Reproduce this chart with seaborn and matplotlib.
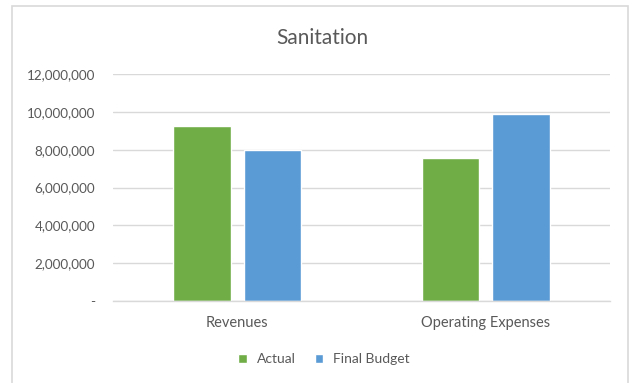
import matplotlib
matplotlib.use("Agg")
import matplotlib.pyplot as plt
import seaborn as sns
import pandas as pd
from matplotlib.patches import Rectangle
from matplotlib.ticker import FuncFormatter

categories = ["Revenues", "Operating Expenses"]
series = ["Actual", "Final Budget"]
actual = [9260000, 7550000]
final_budget = [7970000, 9860000]
colors = ["#70AD47", "#5B9BD5"]
title = "Sanitation"

df = pd.DataFrame({
    "category": categories * 2,
    "series": [series[0]] * 2 + [series[1]] * 2,
    "value": actual + final_budget,
})

sns.set_style("white")
plt.rcParams["font.family"] = ["Lato", "DejaVu Sans"]
text_color = "#595959"

fig = plt.figure(figsize=(6.34, 3.83), dpi=100)
W, H = 634, 383
ax = fig.add_axes([113 / W, (H - 301) / H, (610 - 113) / W, (301 - 74) / H])

sns.barplot(data=df, x="category", y="value", hue="series", order=categories,
            hue_order=series, palette=colors, width=0.567, gap=0.19,
            saturation=1, ax=ax, legend=True)

ax.set_xlim(-0.5, 1.5)
ax.set_ylim(0, 12000000)
ax.set_yticks(range(0, 12000001, 2000000))
ax.yaxis.set_major_formatter(FuncFormatter(lambda v, p: "-" if v == 0 else f"{int(v):,}"))
ax.grid(axis="y", color="#D9D9D9", linewidth=1)
ax.set_axisbelow(True)
for s in ["top", "right", "left"]:
    ax.spines[s].set_visible(False)
ax.spines["bottom"].set_color("#D9D9D9")
ax.spines["bottom"].set_linewidth(1)
ax.tick_params(axis="y", length=0, pad=13, labelsize=9.7, labelcolor=text_color)
ax.tick_params(axis="x", length=0, pad=11, labelsize=10.5, labelcolor=text_color)
ax.set_xlabel("")
ax.set_ylabel("")

leg = ax.legend(loc="center", bbox_to_anchor=(324 / W, (H - 359) / H),
                bbox_transform=fig.transFigure, ncol=2, frameon=False,
                fontsize=10, handlelength=0.6, handleheight=0.6,
                columnspacing=1.4, handletextpad=0.7)
for t in leg.get_texts():
    t.set_color(text_color)

fig.text(322 / W, (H - 38) / H, title, ha="center", va="center",
         fontsize=15, color=text_color)

fig.patches.append(Rectangle((12 / W, -0.05), (628 - 12) / W, (H - 6) / H + 0.05,
                             transform=fig.transFigure, fill=False,
                             edgecolor="#D9D9D9", linewidth=1.2))

fig.savefig("out.png", dpi=100)
